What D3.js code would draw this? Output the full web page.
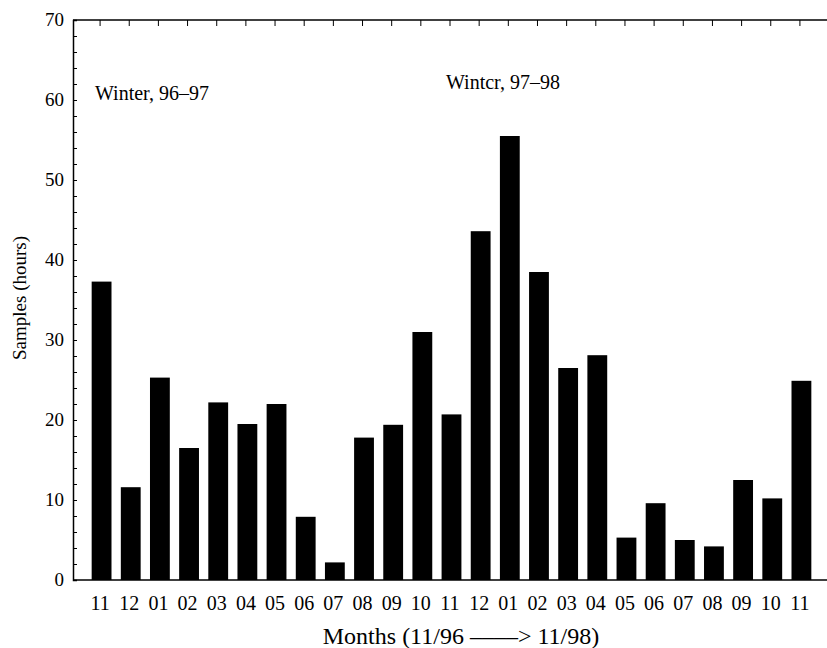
<!DOCTYPE html>
<meta charset="utf-8">
<style>
body { margin: 0; background: white; }
text { font-family: "Liberation Serif", "Times New Roman", serif; fill: black; }
</style>
<body>
<script src="https://d3js.org/d3.v7.min.js"></script>
<script>

// Size of the page
const width = 827
const height = 648

// Month labels, 11/96 through 11/98
const months = ['11','12','01','02','03','04','05','06','07','08','09','10','11',
                '12','01','02','03','04','05','06','07','08','09','10','11']

// Sampled hours per month
const hours = [37.3, 11.6, 25.3, 16.5, 22.2, 19.5, 22.0, 7.9, 2.2, 17.8, 19.4, 31.0, 20.7,
               43.6, 55.5, 38.5, 26.5, 28.1, 5.3, 9.6, 5.0, 4.2, 12.5, 10.2, 24.9]

const yTicks = [0, 10, 20, 30, 40, 50, 60, 70]

const svg = d3.select('body')
	.append('svg')
	.attr('width', width)
	.attr('height', height)

// Scales
const x = d3.scaleBand()
	.domain(d3.range(months.length))
	.range([87, 816])
	.paddingInner(0.32)
	.paddingOuter(0.16)

const y = d3.scaleLinear()
	.domain([0, 70])
	.range([580, 20])

const left = 73

// Bars
svg.selectAll('rect.bar')
	.data(hours)
	.enter()
	.append('rect')
	.attr('class', 'bar')
	.attr('x', (d, i) => x(i))
	.attr('y', d => y(d))
	.attr('width', x.bandwidth())
	.attr('height', d => y(0) - y(d))
	.style('fill', 'black')

// Left axis, ticks pointing inwards
const yAxis = d3.axisRight(y)
	.tickValues(d3.range(0, 71, 2))
	.tickSize(4)
	.tickFormat('')
const gy = svg.append('g')
	.attr('transform', `translate(${left},0)`)
	.call(yAxis)
gy.select('.domain').attr('stroke-width', 1.5)

svg.selectAll('text.ylab')
	.data(yTicks)
	.enter()
	.append('text')
	.attr('class', 'ylab')
	.attr('x', 64)
	.attr('y', d => y(d) + 6)
	.attr('text-anchor', 'end')
	.style('font-size', '19px')
	.text(d => d)

// Top axis, ticks at each month
const cx = i => x(i) + x.bandwidth() / 2
svg.append('line')
	.attr('x1', left).attr('x2', width)
	.attr('y1', y(70)).attr('y2', y(70))
	.attr('stroke', 'black').attr('stroke-width', 1.5)
svg.selectAll('line.ttick')
	.data(months)
	.enter()
	.append('line')
	.attr('class', 'ttick')
	.attr('x1', (d, i) => cx(i) - 1.5).attr('x2', (d, i) => cx(i) - 1.5)
	.attr('y1', y(70)).attr('y2', y(70) + 6)
	.attr('stroke', 'black')

// Bottom line and month labels
svg.append('line')
	.attr('x1', left).attr('x2', width)
	.attr('y1', y(0)).attr('y2', y(0))
	.attr('stroke', 'black').attr('stroke-width', 1.5)
svg.selectAll('text.xlab')
	.data(months)
	.enter()
	.append('text')
	.attr('class', 'xlab')
	.attr('x', (d, i) => cx(i) - 1.5)
	.attr('y', 610)
	.attr('text-anchor', 'middle')
	.style('font-size', '20px')
	.text(d => d)

// Axis titles
svg.append('text')
	.attr('x', 461)
	.attr('y', 644)
	.attr('text-anchor', 'middle')
	.style('font-size', '24px')
	.text('Months (11/96 ––––> 11/98)')

svg.append('text')
	.attr('transform', 'translate(26,298) rotate(-90)')
	.attr('text-anchor', 'middle')
	.style('font-size', '19px')
	.text('Samples (hours)')

// Notes
svg.append('text')
	.attr('x', 95).attr('y', 100)
	.style('font-size', '20px')
	.text('Winter, 96–97')
svg.append('text')
	.attr('x', 446).attr('y', 89)
	.style('font-size', '20px')
	.text('Wintcr, 97–98')

</script>
</body>
